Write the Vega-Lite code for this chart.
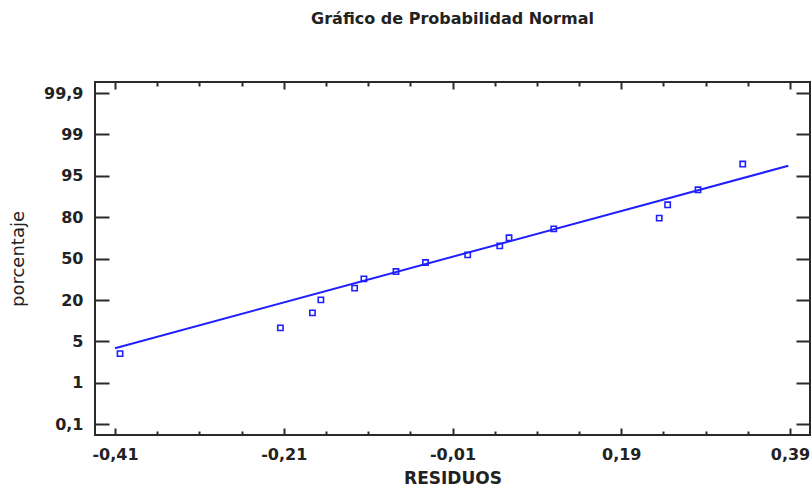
{
  "$schema": "https://vega.github.io/schema/vega-lite/v6.json",
  "autosize": {"type": "none"},
  "width": 715,
  "height": 353,
  "padding": {"left": 95, "top": 82, "right": 1, "bottom": 51},
  "background": "white",
  "title": {
    "text": "Gráfico de Probabilidad Normal",
    "font": "DejaVu Sans",
    "fontSize": 16,
    "fontWeight": "bold",
    "color": "#222222",
    "anchor": "middle",
    "offset": 54
  },
  "config": {
    "view": {"stroke": "#2a2a2a", "strokeWidth": 2},
    "axis": {
      "grid": false,
      "domain": false,
      "tickColor": "#2a2a2a",
      "tickWidth": 2,
      "labelFont": "DejaVu Sans",
      "labelFontSize": 16,
      "labelFontWeight": "bold",
      "labelColor": "#222222",
      "labelFlush": false,
      "labelOverlap": false,
      "labelBound": false,
      "titleFont": "DejaVu Sans",
      "titleColor": "#222222"
    }
  },
  "datasets": {
    "puntos": [
      {"residuo": -0.404, "posicion": 1.706},
      {"residuo": -0.214, "posicion": 2.327},
      {"residuo": -0.176, "posicion": 2.690},
      {"residuo": -0.166, "posicion": 3.004},
      {"residuo": -0.126, "posicion": 3.287},
      {"residuo": -0.115, "posicion": 3.512},
      {"residuo": -0.077, "posicion": 3.688},
      {"residuo": -0.042, "posicion": 3.906},
      {"residuo": 0.008, "posicion": 4.092},
      {"residuo": 0.046, "posicion": 4.309},
      {"residuo": 0.057, "posicion": 4.503},
      {"residuo": 0.110, "posicion": 4.720},
      {"residuo": 0.235, "posicion": 4.979},
      {"residuo": 0.245, "posicion": 5.300},
      {"residuo": 0.281, "posicion": 5.663},
      {"residuo": 0.334, "posicion": 6.284}
    ],
    "linea": [
      {"residuo": -0.41, "posicion": 1.837},
      {"residuo": 0.388, "posicion": 6.243}
    ]
  },
  "resolve": {"axis": {"x": "independent", "y": "independent"}},
  "layer": [
    {
      "data": {"name": "linea"},
      "mark": {"type": "line", "color": "#1f1fff", "strokeWidth": 2},
      "encoding": {
        "x": {
          "field": "residuo",
          "type": "quantitative",
          "scale": {"domain": [-0.4337, 0.4137], "nice": false, "zero": false},
          "axis": {
            "orient": "bottom",
            "title": "RESIDUOS",
            "titleFontSize": 17,
            "titleFontWeight": "bold",
            "titlePadding": 5,
            "values": [-0.41, -0.36, -0.31, -0.26, -0.21, -0.16, -0.11, -0.06, -0.01, 0.04, 0.09, 0.14, 0.19, 0.24, 0.29, 0.34, 0.39],
            "tickSize": {"condition": {"test": "abs((datum.value + 0.41) / 0.2 - round((datum.value + 0.41) / 0.2)) < 0.01", "value": -7}, "value": -4},
            "labelPadding": 18,
            "labelExpr": "abs((datum.value + 0.41) / 0.2 - round((datum.value + 0.41) / 0.2)) < 0.01 ? (datum.value < 0 ? '-' : '') + replace(format(abs(datum.value), '.2f'), '.', ',') : ''"
          }
        },
        "y": {
          "field": "posicion",
          "type": "quantitative",
          "scale": {"domain": [-0.259, 8.266], "nice": false, "zero": false},
          "axis": {
            "orient": "left",
            "title": "porcentaje",
            "titleFontSize": 18,
            "titleFontWeight": "normal",
            "titlePadding": 16,
            "values": [0, 1, 2, 3, 4, 5, 6, 7, 8],
            "tickSize": -14,
            "labelPadding": 26,
            "labelExpr": "['0,1', '1', '5', '20', '50', '80', '95', '99', '99,9'][datum.value]"
          }
        }
      }
    },
    {
      "data": {"name": "puntos"},
      "mark": {"type": "point", "shape": "square", "filled": false, "color": "#1f1fff", "size": 28, "strokeWidth": 1.6, "opacity": 1},
      "encoding": {
        "x": {
          "field": "residuo",
          "type": "quantitative",
          "axis": {
            "orient": "top",
            "title": null,
            "labels": false,
            "values": [-0.41, -0.36, -0.31, -0.26, -0.21, -0.16, -0.11, -0.06, -0.01, 0.04, 0.09, 0.14, 0.19, 0.24, 0.29, 0.34, 0.39],
            "tickSize": {"condition": {"test": "abs((datum.value + 0.41) / 0.2 - round((datum.value + 0.41) / 0.2)) < 0.01", "value": -7}, "value": -4}
          }
        },
        "y": {
          "field": "posicion",
          "type": "quantitative",
          "axis": {
            "orient": "right",
            "title": null,
            "labels": false,
            "values": [0, 1, 2, 3, 4, 5, 6, 7, 8],
            "tickSize": -14
          }
        }
      }
    }
  ]
}
